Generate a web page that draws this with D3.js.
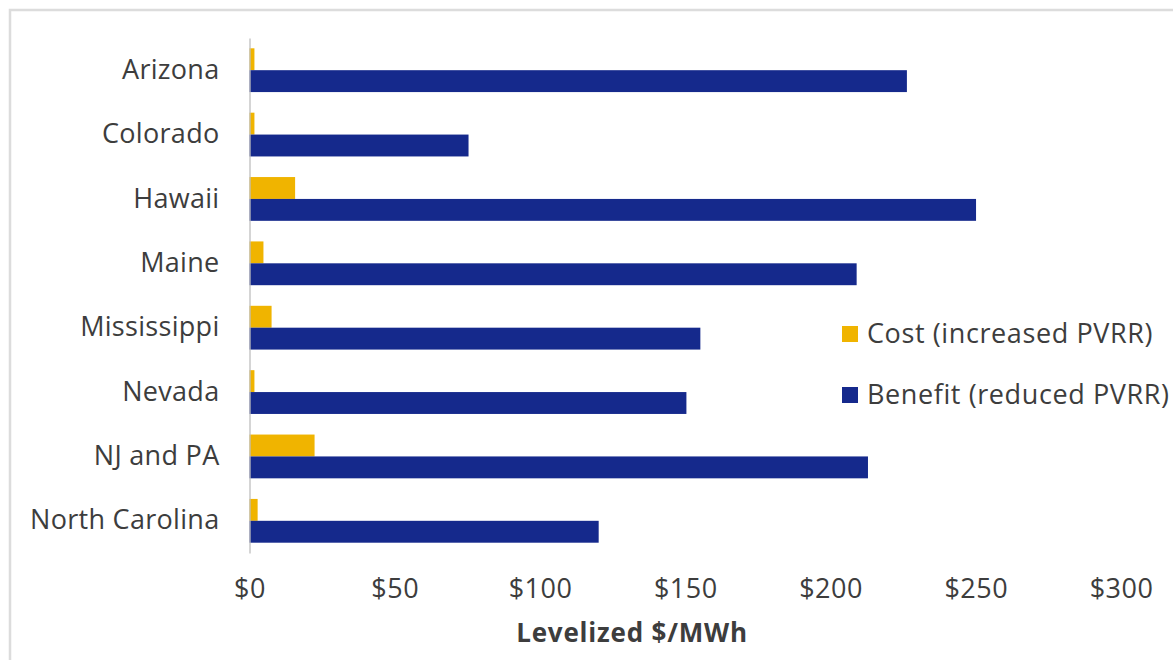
<!DOCTYPE html>
<html>
<head>
<meta charset="utf-8">
<script src="https://cdn.jsdelivr.net/npm/d3@7"></script>
<style>
  html, body { margin: 0; padding: 0; background: #fff; }
  svg text { font-family: "Open Sans", Lato, sans-serif; fill: #3d3d3d; }
</style>
</head>
<body>
<svg id="chart" width="1173" height="660"></svg>
<script>
// Levelized cost vs. benefit by state ($/MWh)
const states = ["Arizona", "Colorado", "Hawaii", "Maine", "Mississippi", "Nevada", "NJ and PA", "North Carolina"];
const costValues = [1.7, 1.7, 15.7, 4.8, 7.6, 1.7, 22.4, 2.8];
const benefitValues = [226.3, 75.4, 250.1, 209, 155.2, 150.4, 212.9, 120.2];
const seriesNames = ["Cost (increased PVRR)", "Benefit (reduced PVRR)"];
const seriesColors = ["#f0b400", "#15298c"];
const xTicks = [0, 50, 100, 150, 200, 250, 300];
const xTitle = "Levelized $/MWh";

const svg = d3.select("#chart");

// outer frame
svg.append("rect")
  .attr("x", 10).attr("y", 10)
  .attr("width", 1200).attr("height", 700)
  .attr("fill", "none")
  .attr("stroke", "#dcdcdc")
  .attr("stroke-width", 2.5);

const x = d3.scaleLinear().domain([0, 300]).range([249.5, 1121]);
const y = d3.scaleBand().domain(states).range([38, 553]).paddingInner(0.32).paddingOuter(0.16);
const sub = d3.scaleBand().domain([0, 1]).range([0, y.bandwidth()]);

const rows = states.map((s, i) => ({ state: s, values: [costValues[i], benefitValues[i]] }));

const groups = svg.append("g").selectAll("g")
  .data(rows).join("g")
  .attr("transform", d => `translate(0,${y(d.state)})`);

groups.selectAll("rect")
  .data(d => d.values.map((v, k) => ({ v, k })))
  .join("rect")
  .attr("x", x(0))
  .attr("y", d => sub(d.k))
  .attr("width", d => x(d.v) - x(0))
  .attr("height", sub.bandwidth())
  .attr("fill", d => seriesColors[d.k]);

// vertical category axis
const yAxis = svg.append("g")
  .attr("transform", `translate(${x(0)},0)`)
  .call(d3.axisLeft(y).tickSize(0).tickPadding(30));
yAxis.select(".domain").attr("stroke", "#bfbfbf").attr("stroke-width", 1.3);
yAxis.selectAll("text")
  .style("font-size", "27px").style("letter-spacing", "0.3px")
  .attr("fill", "#3d3d3d");

// value axis labels
const xAxis = svg.append("g")
  .attr("transform", "translate(0,553)")
  .call(d3.axisBottom(x).tickValues(xTicks).tickSize(0).tickPadding(26)
    .tickFormat(d => "$" + d));
xAxis.select(".domain").remove();
xAxis.selectAll("text")
  .style("font-size", "27px").style("letter-spacing", "0.5px")
  .attr("fill", "#3d3d3d");

svg.append("text")
  .attr("x", 632).attr("y", 642)
  .attr("text-anchor", "middle")
  .style("font-size", "26px").style("font-weight", "bold")
  .style("letter-spacing", "0.8px")
  .attr("fill", "#262626")
  .text(xTitle);

// legend
const legend = svg.append("g").selectAll("g")
  .data(seriesNames).join("g")
  .attr("transform", (d, i) => `translate(842,${326 + i * 61})`);
legend.append("rect")
  .attr("width", 16).attr("height", 16)
  .attr("fill", (d, i) => seriesColors[i]);
legend.append("text")
  .attr("x", 25).attr("y", 8).attr("dy", "0.35em")
  .style("font-size", "27px").style("letter-spacing", "0.6px")
  .text(d => d);
</script>
</body>
</html>
